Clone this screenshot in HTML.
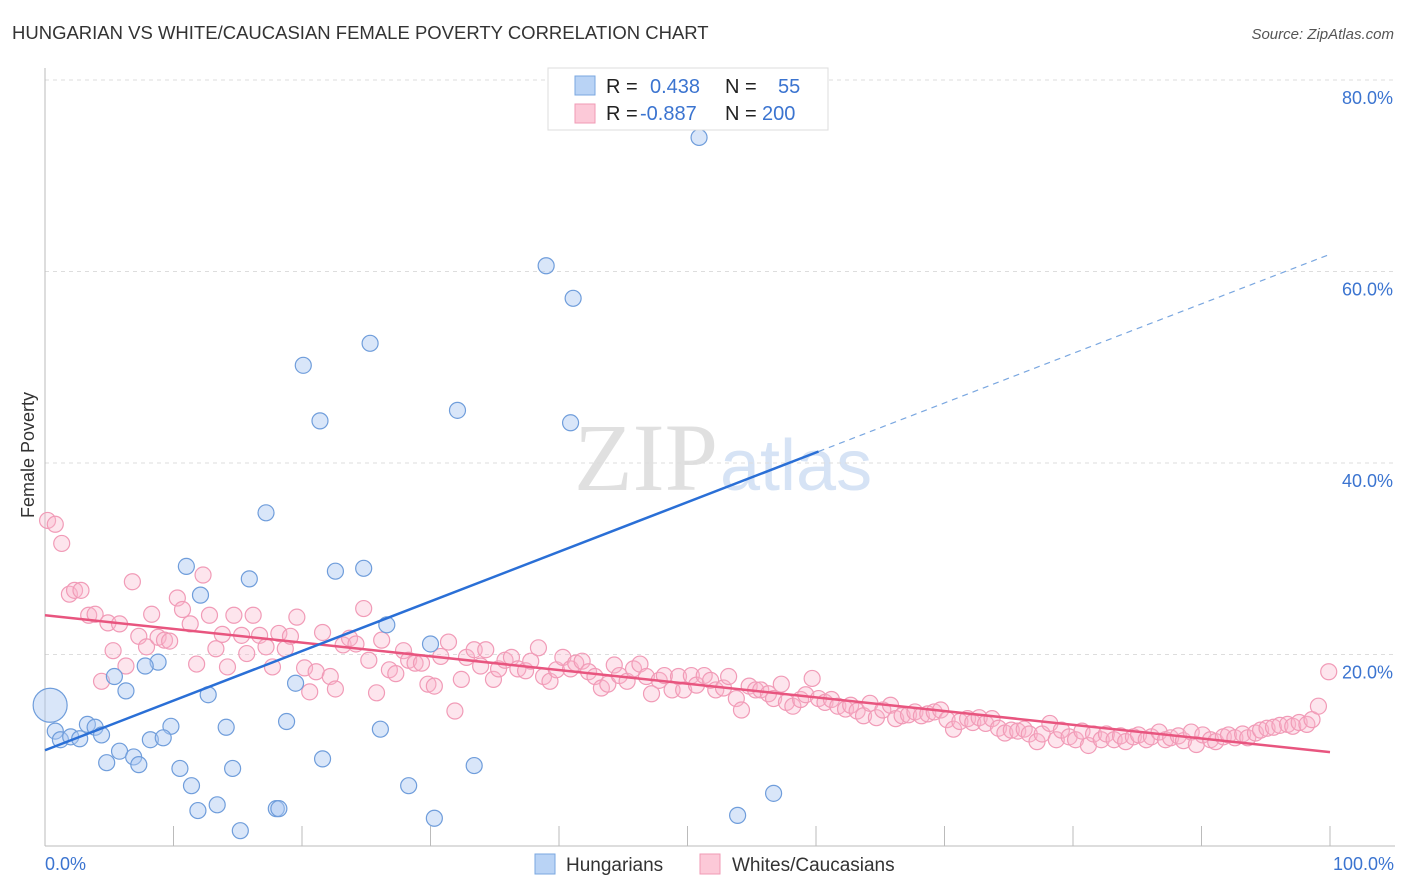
<!DOCTYPE html>
<html><head><meta charset="utf-8"><style>
body{margin:0;background:#fff;font-family:"Liberation Sans",sans-serif;}
svg{display:block}
</style></head><body>
<svg id="chart" width="1406" height="892">
<text x="12" y="39" font-size="18.5" fill="#333">HUNGARIAN VS WHITE/CAUCASIAN FEMALE POVERTY CORRELATION CHART</text>
<text x="1394" y="39" font-size="15" fill="#555" font-style="italic" text-anchor="end">Source: ZipAtlas.com</text>
<text x="718" y="490" font-size="96" fill="#e0e0e0" text-anchor="end" font-family="Liberation Serif">ZIP</text>
<text x="720" y="490" font-size="72" fill="#d6e3f5">atlas</text>
<g id="grid"></g>
<g id="axes"></g>
<g id="marks"></g>
<text x="34" y="455" font-size="18" fill="#333" transform="rotate(-90 34 455)" text-anchor="middle">Female Poverty</text>
<g>
<rect x="548" y="68" width="280" height="62" fill="#fff" stroke="#ddd"/>
<rect x="575" y="76" width="20" height="19" fill="#b9d3f5" stroke="#7aa7e0"/>
<rect x="575" y="104" width="20" height="19" fill="#fcc9d8" stroke="#f09ab5"/>
<text x="606" y="93" font-size="20" fill="#222">R =</text>
<text x="650" y="93" font-size="20" fill="#3b74d0">0.438</text>
<text x="725" y="93" font-size="20" fill="#222">N =</text>
<text x="778" y="93" font-size="20" fill="#3b74d0">55</text>
<text x="606" y="120" font-size="20" fill="#222">R =</text>
<text x="640" y="120" font-size="20" fill="#3b74d0">-0.887</text>
<text x="725" y="120" font-size="20" fill="#222">N =</text>
<text x="762" y="120" font-size="20" fill="#3b74d0">200</text>
</g>
<g>
<rect x="535" y="854" width="20" height="20" fill="#b9d3f5" stroke="#7aa7e0"/>
<text x="566" y="871" font-size="19" fill="#333">Hungarians</text>
<rect x="700" y="854" width="20" height="20" fill="#fcc9d8" stroke="#f09ab5"/>
<text x="732" y="871" font-size="19" fill="#333">Whites/Caucasians</text>
</g>
<text x="45" y="870" font-size="18" fill="#3b74d0">0.0%</text>
<text x="1394" y="870" font-size="18" fill="#3b74d0" text-anchor="end">100.0%</text>
</svg>
<script>
const yTicks=[20,40,60,80];
const yTickLabels=["20.0%","40.0%","60.0%","80.0%"];
const blueX=[50.9,39.0,41.1,25.3,20.1,32.1,21.4,40.9,17.2,11.0,15.9,22.6,24.8,12.1,26.6,30.0,8.8,7.8,5.4,19.5,6.3,12.7,0.8,18.8,26.1,3.3,9.8,14.1,3.9,4.4,1.2,2.0,2.7,8.2,9.2,5.8,6.9,4.8,7.3,21.6,33.4,10.5,14.6,28.3,11.4,56.7,13.4,11.9,18.0,18.2,53.9,30.3,15.2];
const blueY=[74.0,60.6,57.2,52.5,50.2,45.5,44.4,44.2,34.8,29.2,27.9,28.7,29.0,26.2,23.1,21.1,19.2,18.8,17.7,17.0,16.2,15.8,12.0,13.0,12.2,12.7,12.5,12.4,12.4,11.6,11.1,11.4,11.2,11.1,11.3,9.9,9.3,8.7,8.5,9.1,8.4,8.1,8.1,6.3,6.3,5.5,4.3,3.7,3.9,3.9,3.2,2.9,1.6];
const bigBlue=[0.4,14.7];
const pinkX=[0.2,0.8,1.3,1.9,2.3,2.8,3.4,3.9,4.4,4.9,5.3,5.8,6.3,6.8,7.3,7.9,8.3,8.8,9.3,9.7,10.3,10.7,11.3,11.8,12.3,12.8,13.3,13.8,14.2,14.7,15.3,15.7,16.2,16.7,17.2,17.7,18.2,18.7,19.1,19.6,20.2,20.6,21.1,21.6,22.2,22.6,23.2,23.7,24.2,24.8,25.2,25.8,26.2,26.8,27.3,27.9,28.3,28.8,29.3,29.8,30.3,30.8,31.4,31.9,32.4,32.8,33.4,33.9,34.3,34.9,35.3,35.8,36.3,36.8,37.4,37.8,38.4,38.8,39.3,39.8,40.3,40.9,41.3,41.8,42.3,42.8,43.3,43.8,44.3,44.7,45.3,45.8,46.3,46.8,47.2,47.8,48.2,48.8,49.3,49.7,50.3,50.7,51.3,51.8,52.2,52.8,53.2,53.8,54.2,54.8,55.3,55.7,56.3,56.7,57.3,57.7,58.2,58.8,59.2,59.7,60.2,60.7,61.2,61.7,62.3,62.7,63.2,63.7,64.2,64.7,65.2,65.8,66.2,66.7,67.2,67.7,68.2,68.7,69.2,69.7,70.2,70.7,71.2,71.8,72.2,72.7,73.2,73.7,74.2,74.7,75.2,75.7,76.2,76.6,77.2,77.6,78.2,78.7,79.1,79.7,80.2,80.7,81.2,81.6,82.2,82.6,83.2,83.7,84.1,84.7,85.1,85.7,86.1,86.7,87.2,87.6,88.2,88.6,89.2,89.6,90.1,90.7,91.1,91.7,92.1,92.6,93.2,93.6,94.2,94.6,95.1,95.6,96.1,96.7,97.1,97.6,98.2,98.6,99.1,99.9];
const pinkY=[34.0,33.6,31.6,26.3,26.7,26.7,24.1,24.2,17.2,23.3,20.4,23.2,18.8,27.6,21.9,20.8,24.2,21.8,21.5,21.4,25.9,24.7,23.2,19.0,28.3,24.1,20.6,22.1,18.7,24.1,22.0,20.1,24.1,22.0,20.8,18.7,22.2,20.6,21.9,23.9,18.6,16.1,18.2,22.3,17.7,16.4,21.0,21.7,21.1,24.8,19.4,16.0,21.5,18.4,18.0,20.4,19.4,19.1,19.1,16.9,16.7,19.8,21.3,14.1,17.4,19.7,20.5,18.8,20.5,17.4,18.5,19.4,19.7,18.5,18.3,19.3,20.7,17.7,17.2,18.4,19.7,18.5,19.1,19.3,18.2,17.7,16.5,16.9,18.9,17.8,17.2,18.5,19.0,17.7,15.9,17.3,17.8,16.3,17.7,16.3,17.8,16.8,17.8,17.3,16.3,16.5,17.7,15.4,14.2,16.7,16.3,16.3,15.9,15.4,16.9,15.0,14.6,15.3,15.8,17.5,15.4,15.0,15.3,14.6,14.3,14.7,14.1,13.6,14.9,13.4,14.2,14.7,13.3,13.6,13.7,14.0,13.6,13.8,14.0,14.2,13.2,12.2,13.0,13.3,12.9,13.4,12.8,13.3,12.3,11.8,12.1,12.0,12.2,11.7,10.9,11.7,12.8,11.1,12.1,11.4,11.1,12.0,10.5,11.7,11.1,11.7,11.1,11.5,10.9,11.4,11.6,11.1,11.4,11.9,11.1,11.3,11.5,11.0,11.9,10.6,11.6,11.1,10.9,11.4,11.6,11.3,11.7,11.3,11.8,12.1,12.3,12.4,12.6,12.7,12.5,12.9,12.7,13.2,14.6,18.2];
const blueTrend=[10.0,41.2,61.8];
const blueTrendX=[0,60.2,100];
const pinkTrend=[24.1,9.8];
const NS="http://www.w3.org/2000/svg";
const X0=45,X1=1330,Y0=846,Y80=80;
function sx(v){return X0+(X1-X0)*v/100;}
function sy(v){return Y0-(Y0-Y80)*v/80;}
function mk(tag,attrs,parent){const e=document.createElementNS(NS,tag);for(const k in attrs)e.setAttribute(k,attrs[k]);parent.appendChild(e);return e;}
const grid=document.getElementById('grid'),axes=document.getElementById('axes'),marks=document.getElementById('marks');
yTicks.forEach((t,i)=>{
 const l=mk('line',{x1:X0,x2:1395,y1:sy(t),y2:sy(t),stroke:'#ddd','stroke-dasharray':'4,4'},grid);
 
 
 const tx=mk('text',{x:1393,y:sy(t)+24,'font-size':18,fill:'#3b74d0','text-anchor':'end'},grid);
 tx.textContent=yTickLabels[i];
 
 
});
const ax=mk('line',{x1:X0,x2:X0,y1:68,y2:Y0,stroke:'#bbb'},axes);


const bx=mk('line',{x1:X0,x2:1395,y1:Y0,y2:Y0,stroke:'#bbb'},axes);


for(let t=10;t<=100;t+=10){
 const k=mk('line',{x1:sx(t),x2:sx(t),y1:826,y2:Y0,stroke:'#bbb'},axes);
 
 
}
pinkX.forEach((v,i)=>{
 const c=mk('circle',{cx:sx(v),cy:sy(pinkY[i]),r:8,fill:'rgba(248,180,202,0.35)',stroke:'#f19bb7','stroke-width':1.2},marks);
 
 
});
blueX.forEach((v,i)=>{
 const c=mk('circle',{cx:sx(v),cy:sy(blueY[i]),r:8,fill:'rgba(170,200,242,0.45)',stroke:'#6f9ddb','stroke-width':1.2},marks);
 
 
});
const bb=mk('circle',{cx:sx(bigBlue[0]),cy:sy(bigBlue[1]),r:17,fill:'rgba(170,200,242,0.45)',stroke:'#6f9ddb','stroke-width':1.2},marks);


const pt=mk('line',{x1:sx(0),y1:sy(pinkTrend[0]),x2:sx(100),y2:sy(pinkTrend[1]),stroke:'#e8557f','stroke-width':2.5},marks);


const bt=mk('line',{x1:sx(blueTrendX[0]),y1:sy(blueTrend[0]),x2:sx(blueTrendX[1]),y2:sy(blueTrend[1]),stroke:'#2a6fd6','stroke-width':2.5},marks);


const bd=mk('line',{x1:sx(blueTrendX[1]),y1:sy(blueTrend[1]),x2:sx(blueTrendX[2]),y2:sy(blueTrend[2]),stroke:'#7aa7e0','stroke-width':1.2,'stroke-dasharray':'6,5'},marks);


</script>
</body></html>
